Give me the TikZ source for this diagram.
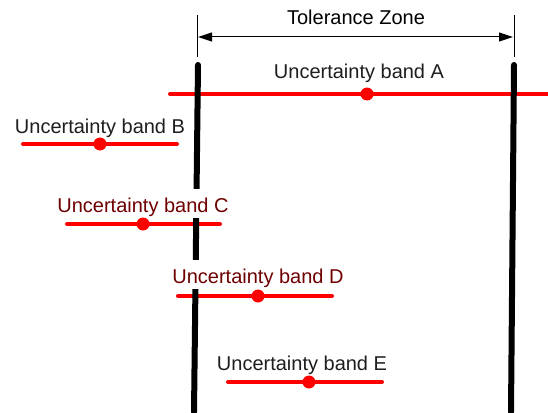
\documentclass[tikz,border=0pt]{standalone}
\usepackage{fontspec}
\setmainfont{Liberation Sans}
\usetikzlibrary{arrows.meta}
\definecolor{darkred}{RGB}{110,0,0}
\definecolor{txtgray}{RGB}{30,30,30}
\tikzset{
  limitline/.style={line width=6pt,line cap=round,black},
  tickline/.style={line width=1pt,black},
  band/.style={line width=4pt,red,line cap=round},
  banddot/.style={circle,fill=red,inner sep=0pt,minimum size=13pt},
  lbl/.style={anchor=base,font=\fontsize{20}{24}\selectfont,fill=white,inner sep=1pt,text height=22pt,text depth=5pt,text=txtgray},
  lblred/.style={lbl,text=darkred},
  dimarrow/.style={line width=1pt,{Triangle[length=14pt,width=9pt]}-{Triangle[length=14pt,width=9pt]}}
}
\begin{document}
\begin{tikzpicture}[x=1pt,y=-1pt]
\useasboundingbox[fill=white] (0,0) rectangle (548,412);
% tolerance limits
\coordinate (Lt) at (198,65);
\coordinate (Lb) at (194,412);
\coordinate (Rt) at (514,65);
\coordinate (Rb) at (511,412);
\coordinate (LTt) at (197,15);
\coordinate (LTb) at (197,57);
\coordinate (RTt) at (514,15);
\coordinate (RTb) at (514,57);
\coordinate (Ra) at (198,37);
\coordinate (Rb2) at (513,37);
% bands
\coordinate (A1) at (170,94);  \coordinate (A2) at (548,94);
\coordinate (B1) at (23,144);  \coordinate (B2) at (177,144);
\coordinate (C1) at (67,224);  \coordinate (C2) at (220,224);
\coordinate (D1) at (178,296); \coordinate (D2) at (332,296);
\coordinate (E1) at (228,382); \coordinate (E2) at (382,382);

\draw[band] (A1) -- (A2);
\draw[band] (B1) -- (B2);
\draw[band] (C1) -- (C2);
\draw[band] (D1) -- (D2);
\draw[band] (E1) -- (E2);

\draw[limitline] (Lt) -- (Lb);
\draw[limitline] (Rt) -- (Rb);
\draw[tickline] (LTt) -- (LTb);
\draw[tickline] (RTt) -- (RTb);
\draw[dimarrow] (Ra) -- (Rb2);

\node[lbl,text=black] (tz) at (356,25) {Tolerance Zone};
\node[lbl] (la) at (359,78) {Uncertainty band A};
\node[lbl] (lb) at (100,133) {Uncertainty band B};
\node[lblred] (lc) at (143,212) {Uncertainty band C};
\node[lblred] (ld) at (258,283) {Uncertainty band D};
\node[lbl] (le) at (302,370) {Uncertainty band E};

\node[banddot] (Ad) at (367,94) {};
\node[banddot] (Bd) at (100,144) {};
\node[banddot] (Cd) at (143,224) {};
\node[banddot] (Dd) at (258,296) {};
\node[banddot] (Ed) at (309,382) {};
\end{tikzpicture}
\end{document}
